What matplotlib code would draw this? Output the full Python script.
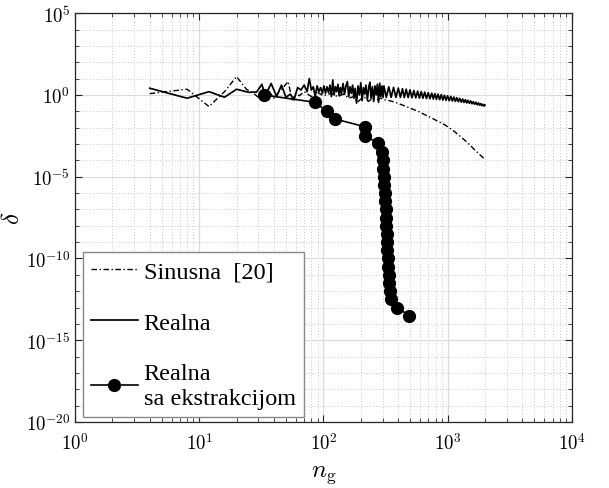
import numpy as np
import matplotlib
matplotlib.use('Agg')
import matplotlib.pyplot as plt
from matplotlib.ticker import FuncFormatter, LogLocator, NullFormatter

# Sinusna [20]  (n_g, log10(delta))
sin_n = [4, 8, 12, 16, 20, 24, 28, 32, 36, 40, 44, 48, 52, 56, 60, 64,
         70, 80, 90, 100, 115, 130, 145, 160, 175, 188, 200, 215, 230, 250,
         270, 290, 310, 340, 380, 420, 464, 520, 590, 660, 740, 830, 920,
         1000, 1120, 1250, 1380, 1510, 1650, 1800, 2000]
sin_log = [0.08, 0.35, -0.71, 0.2, 1.12, 0.35, 0.05, -0.35, 0.3, -0.2, 0.2, 0.5, 0.82, -0.3, 0.1, -0.05,
           0.2, -0.1, 0.15, -0.05, 0.1, -0.1, 0.05, -0.2, -0.1, -0.45, -0.25, -0.15, -0.4, -0.2,
           -0.3, -0.2, -0.3, -0.35, -0.45, -0.58, -0.71, -0.86, -1.03, -1.22, -1.4, -1.6, -1.77,
           -1.94, -2.2, -2.5, -2.78, -3.06, -3.35, -3.62, -3.95]

# Realna
real_n = [4, 8, 12, 16, 20, 25, 29, 32, 34, 38, 42, 46, 50, 54, 58, 62, 66, 70, 74, 77,
          80, 83, 86, 89, 92, 95, 98, 101, 104, 107, 110, 113, 116, 119, 122, 125, 128,
          131, 134, 137, 140, 144, 148, 152, 156, 160, 164, 168, 172, 176, 180, 185, 190,
          195, 200, 205, 210, 215, 220, 226, 232, 237, 242, 248, 254, 260, 266, 272, 278,
          284, 290, 296, 302,
          307, 321, 336, 351, 367, 384, 401, 417, 433, 448, 464, 481, 498, 516, 535, 554,
          574, 593, 613, 633, 654, 676, 698, 721, 745, 767, 790, 813, 837, 863, 889, 915,
          942, 971, 1000, 1030, 1061, 1092, 1123, 1155, 1187, 1219, 1252, 1286, 1320, 1355,
          1390, 1425, 1460, 1497, 1535, 1572, 1610, 1650, 1690, 1730, 1770, 1810, 1850,
          1890, 1930, 1965, 2000]
real_log = [0.41, -0.2, 0.2, -0.14, 0.35, 0.16, 0.18, 0.65, -0.05, 0.7, -0.1, 0.6, -0.15, 0.05,
            -0.3, 0.45, 0.3, 0.6, 0.2, 1.0,
            0.3, 0.5, -0.1, 0.55, 0.2, 0.45, 0.1, 0.55, 0.1, 0.5, 0.15, 0.6, -0.1, 0.92, 0.0,
            0.5, 0.2, 0.65, -0.05, 0.45, 0.1, 0.7, 0.05, 0.55, 0.82, -0.1, 0.5, 0.1, 0.6, -0.2,
            0.4, -0.5, 0.55, 0.0, 0.75, -0.35, 0.45, 0.05, 0.6, -0.3, 0.5, 0.78, -0.2, 0.5, -0.4,
            0.55, 0.0, 0.65, -0.45, 0.72, -0.1, 0.55, -0.15,
            0.55, -0.15, 0.5, -0.15, 0.46, -0.15, 0.42, -0.15, 0.38, -0.16, 0.35, -0.16, 0.31,
            -0.17, 0.27, -0.18, 0.23, -0.19, 0.2, -0.2, 0.17, -0.22, 0.14, -0.23, 0.11, -0.25,
            0.08, -0.27, 0.05, -0.29, 0.02, -0.31, -0.02, -0.33, -0.05, -0.35, -0.09, -0.37,
            -0.13, -0.39, -0.17, -0.41, -0.21, -0.44, -0.25, -0.46, -0.29, -0.49, -0.33, -0.51,
            -0.37, -0.54, -0.41, -0.57, -0.45, -0.6, -0.49, -0.63, -0.53, -0.66, -0.57, -0.68,
            -0.62]

# Realna sa ekstrakcijom
ext_n = [33, 86, 106, 124, 215, 218, 276, 298, 300, 303, 306, 310, 314, 316, 318, 320,
         322, 324, 326, 328, 331, 334, 337, 340, 344, 350, 393, 492]
ext_log = [0.0, -0.45, -1.0, -1.47, -1.94, -2.49, -2.96, -3.51, -4.0, -4.5, -5.0, -5.5,
           -6.0, -6.5, -7.0, -7.5, -8.0, -8.5, -9.0, -9.5, -10.0, -10.5, -11.0, -11.5,
           -12.0, -12.5, -13.0, -13.5]

plt.rcParams['mathtext.fontset'] = 'cm'

fig = plt.figure(figsize=(6.09, 4.89), dpi=100)
ax = fig.add_axes([0.123, 0.135, 0.816, 0.836])

ax.loglog(sin_n, 10.0 ** np.array(sin_log), color='k', lw=1.0,
          dashes=(4, 1.8, 1, 1.8), label='Sinusna  [20]')
ax.loglog(real_n, 10.0 ** np.array(real_log), color='k', lw=1.25, label='Realna')
ax.loglog(ext_n, 10.0 ** np.array(ext_log), color='k', lw=1.2, marker='o', ms=8.5,
          label='Realna\nsa ekstrakcijom')

ax.set_xlim(1, 1e4)
ax.set_ylim(1e-20, 1e5)
ax.set_yticks([1e-20, 1e-15, 1e-10, 1e-5, 1e0, 1e5])
ax.set_yticks([10.0 ** k for k in range(-20, 6)], minor=True)
ax.set_xticks([1, 10, 100, 1000, 10000])
ax.xaxis.set_minor_locator(LogLocator(base=10, subs=range(2, 10), numticks=20))

fmt = FuncFormatter(lambda v, p: r'$10^{%d}$' % int(round(np.log10(v))))
ax.xaxis.set_major_formatter(fmt)
ax.yaxis.set_major_formatter(fmt)
ax.xaxis.set_minor_formatter(NullFormatter())
ax.yaxis.set_minor_formatter(NullFormatter())

ax.tick_params(which='both', direction='in', top=True, right=True, labelsize=13.5,
               color='#262626')
ax.tick_params(axis='x', which='major', pad=7)
ax.tick_params(which='major', length=5, width=0.8)
ax.tick_params(which='minor', length=3, width=0.6)

ax.grid(True, which='major', color='#dcdcdc', lw=0.9, ls='-')
ax.grid(True, which='minor', color='#c8c8c8', lw=0.7, ls=(0, (1, 2)))
ax.set_axisbelow(True)
for s in ax.spines.values():
    s.set_color('#262626')
    s.set_linewidth(0.9)

ax.set_xlabel(r'$n_{\mathrm{g}}$', fontsize=18, labelpad=6)
ax.set_ylabel(r'$\delta$', fontsize=18, labelpad=1)

leg = ax.legend(loc='lower left', bbox_to_anchor=(0.016, 0.012), borderaxespad=0,
                prop={'family': 'Liberation Serif', 'size': 17.5}, fancybox=False,
                framealpha=1, edgecolor='#888888', handlelength=1.9, handletextpad=0.25,
                labelspacing=1.22, borderpad=0.35)
leg.get_frame().set_linewidth(1.0)

fig.savefig('out.png', dpi=100)
